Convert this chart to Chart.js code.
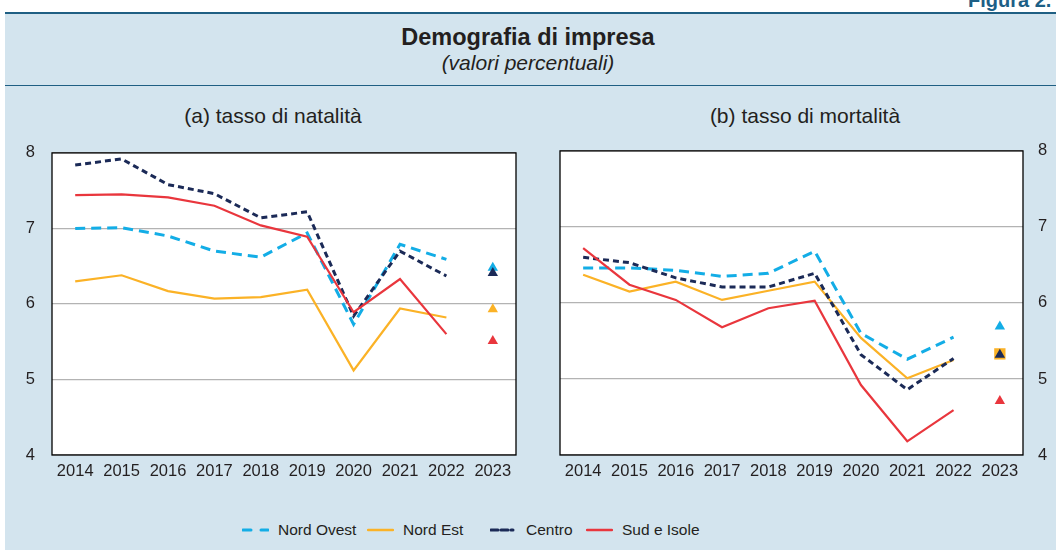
<!DOCTYPE html>
<html>
<head>
<meta charset="utf-8">
<script src="https://cdn.jsdelivr.net/npm/chart.js@4/dist/chart.umd.min.js"></script>
<style>
  body { margin: 0; width: 1056px; height: 550px; background: #fff; position: relative; overflow: hidden;
         font-family: "Liberation Sans", Arial, sans-serif; color: #231f20; }
  #figura { position: absolute; left: 968px; top: -11px; font-weight: bold; font-size: 20px; color: #1d5f86; white-space: nowrap; }
  #pannello { position: absolute; left: 5px; top: 12px; width: 1051px; height: 538px; background: #d3e4ee;
              border-top: 2px solid #1f5f83; }
  #sep { position: absolute; left: 5px; top: 85px; width: 1051px; height: 1px; background: #1f5f83; }
  #titolo { position: absolute; left: 0; width: 1056px; top: 24px; text-align: center; font-weight: bold; font-size: 23.5px; }
  #sottotitolo { position: absolute; left: 0; width: 1056px; top: 51px; text-align: center; font-style: italic; font-size: 21px; }
  .sub { position: absolute; top: 104px; font-size: 21px; text-align: center; width: 300px; }
  canvas { position: absolute; }
  #legenda { position: absolute; top: 520px; left: 0; width: 1056px; font-size: 15.5px; }
  .voce { position: absolute; top: 0; line-height: 20px; white-space: nowrap; }
  .voce svg { position: absolute; top: 0; }
</style>
</head>
<body>
<div id="figura">Figura 2.</div>
<div id="pannello"></div>
<div id="sep"></div>
<div id="titolo">Demografia di impresa</div>
<div id="sottotitolo">(valori percentuali)</div>
<div class="sub" style="left:123px">(a) tasso di natalità</div>
<div class="sub" style="left:655px">(b) tasso di mortalità</div>
<canvas id="natalita" style="left:10px; top:126px; width:512px; height:359px"></canvas>
<canvas id="mortalita" style="left:526px; top:126px; width:530px; height:359px"></canvas>
<div id="legenda"></div>

<script>
// anni e valori (l'ultimo valore, 2023, è il punto isolato)
const anni = ["2014", "2015", "2016", "2017", "2018", "2019", "2020", "2021", "2022", "2023"];
const yTicks = [4, 5, 6, 7, 8];

const natNordOvest = [7.00, 7.01, 6.90, 6.70, 6.62, 6.94, 5.73, 6.79, 6.59, 6.48];
const natNordEst   = [6.30, 6.38, 6.17, 6.07, 6.09, 6.19, 5.12, 5.94, 5.82, 5.93];
const natCentro    = [7.84, 7.92, 7.58, 7.46, 7.14, 7.22, 5.84, 6.70, 6.37, 6.41];
const natSud       = [7.44, 7.45, 7.41, 7.30, 7.04, 6.89, 5.89, 6.33, 5.60, 5.51];

const morNordOvest = [6.46, 6.46, 6.43, 6.35, 6.39, 6.68, 5.60, 5.26, 5.55, 5.69];
const morNordEst   = [6.37, 6.15, 6.28, 6.04, 6.16, 6.28, 5.54, 5.01, 5.25, 5.33];
const morCentro    = [6.60, 6.53, 6.33, 6.21, 6.21, 6.39, 5.32, 4.86, 5.27, 5.32];
const morSud       = [6.72, 6.24, 6.04, 5.68, 5.93, 6.03, 4.92, 4.18, 4.59, 4.71];

const serie = [
  { nome: "Nord Ovest", colore: "#13ade6", dash: [10, 6], spessore: 3 },
  { nome: "Nord Est", colore: "#fbb226", dash: [], spessore: 2.2 },
  { nome: "Centro", colore: "#1b2a57", dash: [6, 4], spessore: 3 },
  { nome: "Sud e Isole", colore: "#e9363d", dash: [], spessore: 2.2 }
];

// sfondo bianco e cornice nera dell'area del grafico
const cornice = {
  id: "cornice",
  beforeDraw(chart) {
    const a = chart.chartArea, ctx = chart.ctx;
    ctx.save();
    ctx.fillStyle = "#ffffff";
    ctx.fillRect(a.left, a.top, a.right - a.left, a.bottom - a.top);
    ctx.restore();
  },
  afterDraw(chart) {
    const a = chart.chartArea, ctx = chart.ctx;
    ctx.save();
    ctx.strokeStyle = "#000";
    ctx.lineWidth = 1.3;
    ctx.strokeRect(a.left, a.top, a.right - a.left, a.bottom - a.top);
    ctx.restore();
  }
};

function creaDataset(valori, marcatoreQuadrato) {
  // ordine di disegno: Sud sopra, poi Centro, Nord Est, Nord Ovest
  const ordine = [3, 2, 1, 0];
  const linee = [], marcatori = [];
  ordine.forEach(function(k) {
    const s = serie[k];
    const quadrato = marcatoreQuadrato && k === 1;
    linee.push({
      label: s.nome,
      data: valori[k].slice(0, 9),
      borderColor: s.colore,
      borderWidth: s.spessore,
      borderDash: s.dash,
      pointRadius: 0,
      tension: 0,
      fill: false
    });
    marcatori.push({
      label: s.nome + " 2023",
      data: valori[k].map(function(v, i) { return i === 9 ? v : null; }),
      showLine: false,
      pointStyle: quadrato ? "rect" : "triangle",
      pointRadius: quadrato ? 8 : 6,
      backgroundColor: s.colore,
      borderColor: s.colore,
      borderWidth: 0
    });
  });
  return linee.concat(marcatori);
}

function opzioni(lato) {
  return {
    responsive: false,
    animation: false,
    layout: { padding: lato === "left" ? { top: 11, right: 6 } : { top: 12, left: 34 } },
    plugins: { legend: { display: false }, title: { display: false }, tooltip: { enabled: false } },
    scales: {
      x: {
        grid: { display: false, drawTicks: false },
        border: { display: false },
        offset: true,
        ticks: { color: "#231f20", font: { size: 16.5, family: "Liberation Sans" }, padding: 7, maxRotation: 0, autoSkip: false },
        afterFit: function(axis) { axis.height = 30; }
      },
      y: {
        position: lato,
        min: 4,
        max: 8,
        afterBuildTicks: function(axis) { axis.ticks = yTicks.map(function(v) { return { value: v }; }); },
        grid: { color: "#b3b3b3", lineWidth: 1.3, drawTicks: false },
        border: { display: false },
        ticks: { color: "#231f20", font: { size: 16.5, family: "Liberation Sans" }, padding: lato === "left" ? 17 : 15 },
        afterFit: function(axis) { axis.width = lato === "left" ? 42 : 33; }
      }
    }
  };
}

function disegna(id, valori, lato, quadrato) {
  const canvas = document.getElementById(id);
  canvas.width = parseInt(canvas.style.width);
  canvas.height = parseInt(canvas.style.height);
  new Chart(canvas.getContext("2d"), {
    type: "line",
    data: { labels: anni, datasets: creaDataset(valori, quadrato) },
    options: opzioni(lato),
    plugins: [cornice]
  });
}

disegna("natalita", [natNordOvest, natNordEst, natCentro, natSud], "left", false);
disegna("mortalita", [morNordOvest, morNordEst, morCentro, morSud], "right", true);

// legenda comune
const posLegenda = [242, 367, 490, 586];
const legenda = document.getElementById("legenda");
serie.forEach(function(s, i) {
  const d = document.createElement("div");
  d.className = "voce";
  d.style.left = posLegenda[i] + "px";
  const dash = s.nome === "Nord Ovest" ? "8 10" : (s.nome === "Centro" ? "7 3 7 3 2" : "none");
  d.innerHTML = '<svg width="27" height="20"><line x1="1" y1="10" x2="26" y2="10" stroke="' + s.colore +
    '" stroke-width="' + (s.dash.length ? 3 : 2.5) + '" stroke-dasharray="' + dash + '" stroke-linecap="round"/></svg>' +
    '<span style="margin-left:36px">' + s.nome + '</span>';
  legenda.appendChild(d);
});
</script>
</body>
</html>
